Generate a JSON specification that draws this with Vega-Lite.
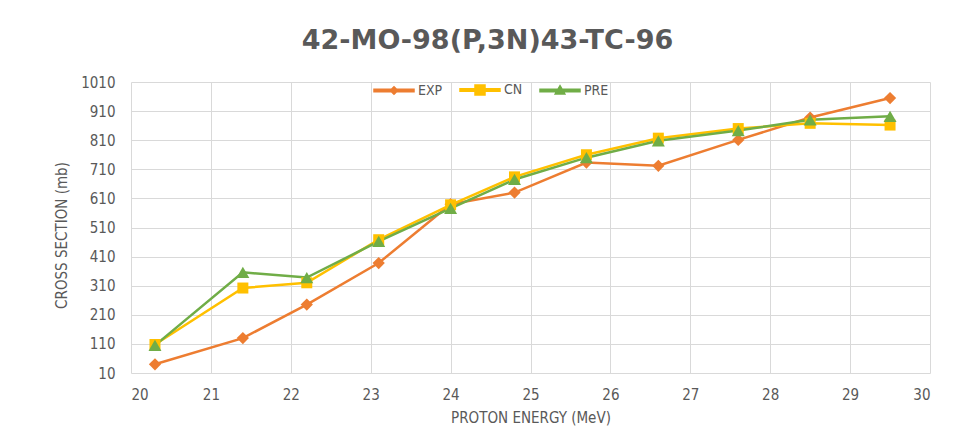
{
  "$schema": "https://vega.github.io/schema/vega-lite/v6.json",
  "width": 799,
  "height": 291,
  "autosize": "none",
  "padding": {"left": 131, "top": 82, "right": 28, "bottom": 59},
  "background": "white",
  "title": {
    "text": "42-MO-98(P,3N)43-TC-96",
    "font": "DejaVu Sans",
    "fontSize": 27,
    "fontWeight": "bold",
    "color": "#595959",
    "anchor": "middle",
    "dx": -43,
    "offset": 14
  },
  "config": {
    "view": {"stroke": null},
    "axis": {
      "gridColor": "#d9d9d9",
      "gridWidth": 1,
      "domain": false,
      "ticks": false,
      "labelColor": "#595959",
      "labelFont": "DejaVu Sans Condensed",
      "labelFontSize": 15,
      "titleColor": "#595959",
      "titleFont": "DejaVu Sans Condensed",
      "titleFontWeight": "normal",
      "titleFontSize": 15
    }
  },
  "data": {
    "values": [
      {"energy": 20.3, "series": "EXP", "xs": 40},
      {"energy": 21.4, "series": "EXP", "xs": 130},
      {"energy": 22.2, "series": "EXP", "xs": 245},
      {"energy": 23.1, "series": "EXP", "xs": 388},
      {"energy": 24.0, "series": "EXP", "xs": 590},
      {"energy": 24.8, "series": "EXP", "xs": 630},
      {"energy": 25.7, "series": "EXP", "xs": 733},
      {"energy": 26.6, "series": "EXP", "xs": 722},
      {"energy": 27.6, "series": "EXP", "xs": 811},
      {"energy": 28.5, "series": "EXP", "xs": 888},
      {"energy": 29.5, "series": "EXP", "xs": 955},
      {"energy": 20.3, "series": "CN", "xs": 108},
      {"energy": 21.4, "series": "CN", "xs": 302},
      {"energy": 22.2, "series": "CN", "xs": 320},
      {"energy": 23.1, "series": "CN", "xs": 468},
      {"energy": 24.0, "series": "CN", "xs": 588},
      {"energy": 24.8, "series": "CN", "xs": 684},
      {"energy": 25.7, "series": "CN", "xs": 760},
      {"energy": 26.6, "series": "CN", "xs": 817},
      {"energy": 27.6, "series": "CN", "xs": 850},
      {"energy": 28.5, "series": "CN", "xs": 868},
      {"energy": 29.5, "series": "CN", "xs": 862},
      {"energy": 20.3, "series": "PRE", "xs": 105},
      {"energy": 21.4, "series": "PRE", "xs": 356},
      {"energy": 22.2, "series": "PRE", "xs": 338},
      {"energy": 23.1, "series": "PRE", "xs": 462},
      {"energy": 24.0, "series": "PRE", "xs": 576},
      {"energy": 24.8, "series": "PRE", "xs": 675},
      {"energy": 25.7, "series": "PRE", "xs": 750},
      {"energy": 26.6, "series": "PRE", "xs": 808},
      {"energy": 27.6, "series": "PRE", "xs": 843},
      {"energy": 28.5, "series": "PRE", "xs": 880},
      {"energy": 29.5, "series": "PRE", "xs": 892}
    ]
  },
  "encoding": {
    "x": {
      "field": "energy",
      "type": "quantitative",
      "scale": {"domain": [20, 30], "nice": false, "zero": false},
      "axis": {"values": [20,21,22,23,24,25,26,27,28,29,30], "title": "PROTON ENERGY (MeV)", "labelPadding": 14, "titleY": 49, "titleBaseline": "alphabetic"}
    },
    "y": {
      "field": "xs",
      "type": "quantitative",
      "scale": {"domain": [10, 1010], "nice": false, "zero": false},
      "axis": {"values": [10,110,210,310,410,510,610,710,810,910,1010], "format": "d", "title": "CROSS SECTION (mb)", "labelPadding": 16, "titleX": -70, "titleY": 153, "titleBaseline": "middle", "titleAngle": -90}
    },
    "color": {
      "field": "series",
      "type": "nominal",
      "scale": {"domain": ["EXP", "CN", "PRE"], "range": ["#ED7D31", "#FFC000", "#70AD47"]},
      "legend": {
        "title": null,
        "orient": "none",
        "legendX": 242,
        "legendY": -13,
        "padding": 0,
        "direction": "horizontal",
        "labelFont": "DejaVu Sans Condensed",
        "labelFontSize": 14,
        "labelColor": "#595959",
        "symbolSize": 1600,
        "symbolOpacity": 1,
        "columnPadding": 14,
        "labelOffset": 3
      }
    },
    "order": {"field": "energy", "type": "quantitative"}
  },
  "layer": [
    {
      "mark": {"type": "line", "strokeWidth": 2.5}
    },
    {
      "transform": [{"filter": "datum.series === 'EXP'"}],
      "mark": {"type": "point", "filled": true, "opacity": 1, "shape": "diamond", "size": 150}
    },
    {
      "transform": [{"filter": "datum.series === 'CN'"}],
      "mark": {"type": "point", "filled": true, "opacity": 1, "shape": "square", "size": 121}
    },
    {
      "transform": [{"filter": "datum.series === 'PRE'"}],
      "mark": {"type": "point", "filled": true, "opacity": 1, "shape": "triangle-up", "size": 169}
    },
    {
      "transform": [{"filter": "datum.energy > 100"}],
      "mark": {"type": "point", "filled": true, "opacity": 1, "size": 1600},
      "encoding": {
        "shape": {
          "field": "series",
          "type": "nominal",
          "scale": {
            "domain": ["EXP", "CN", "PRE"],
            "range": [
              "M-1,-0.065H1V0.065H-1Z M0,-0.19L0.19,0L0,0.19L-0.19,0Z",
              "M-1,-0.065H1V0.065H-1Z M-0.25,-0.25H0.25V0.25H-0.25Z",
              "M-1,-0.065H1V0.065H-1Z M0,-0.24L0.24,0.17L-0.24,0.17Z"
            ]
          }
        }
      }
    }
  ]
}
